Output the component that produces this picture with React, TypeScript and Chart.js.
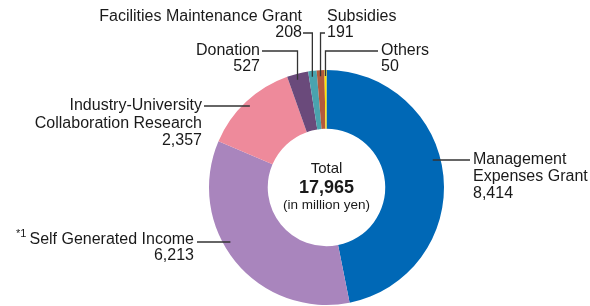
import React, { useEffect, useRef } from "react";
import { Chart, registerables } from "chart.js";

Chart.register(...registerables);

const categories = [
  "Management Expenses Grant",
  "Self Generated Income",
  "Industry-University Collaboration Research",
  "Donation",
  "Facilities Maintenance Grant",
  "Subsidies",
  "Others",
];
const values = [8414, 6213, 2357, 527, 208, 191, 50];
const valueLabels = ["8,414", "6,213", "2,357", "527", "208", "191", "50"];
const colors = ["#0068B6", "#A985BD", "#EE8A9B", "#6A4A7B", "#4AA3AE", "#B45A3C", "#FFE500"];
const totalLabel = "17,965";

const FONT = "'Liberation Sans', Arial, sans-serif";
const FS = 16;

type LabelSpec = {
  idx: number;
  lines: string[];
  x: number;
  ys: number[];
  align: CanvasTextAlign;
  leader: { kind: "h" | "v"; y: number; fromX: number };
  sup?: string;
};

const labels: LabelSpec[] = [
  { idx: 0, lines: ["Management", "Expenses Grant", valueLabels[0]], x: 473, ys: [160, 177, 194], align: "left", leader: { kind: "h", y: 160, fromX: 470 } },
  { idx: 1, lines: ["Self Generated Income", valueLabels[1]], x: 194, ys: [240, 256], align: "right", leader: { kind: "h", y: 242, fromX: 197 }, sup: "*1" },
  { idx: 2, lines: ["Industry-University", "Collaboration Research", valueLabels[2]], x: 202, ys: [106, 124, 141], align: "right", leader: { kind: "h", y: 106, fromX: 204 } },
  { idx: 3, lines: ["Donation", valueLabels[3]], x: 260, ys: [51, 67], align: "right", leader: { kind: "v", y: 51, fromX: 262 } },
  { idx: 4, lines: ["Facilities Maintenance Grant", valueLabels[4]], x: 302, ys: [17, 33], align: "right", leader: { kind: "v", y: 33, fromX: 303 } },
  { idx: 5, lines: ["Subsidies", valueLabels[5]], x: 327, ys: [17, 33], align: "left", leader: { kind: "v", y: 33, fromX: 325 } },
  { idx: 6, lines: ["Others", valueLabels[6]], x: 381, ys: [51, 67], align: "left", leader: { kind: "v", y: 51, fromX: 378 } },
];

const labelPlugin = {
  id: "labelPlugin",
  afterDraw(chart: any) {
    const ctx = chart.ctx as CanvasRenderingContext2D;
    const meta = chart.getDatasetMeta(0);
    ctx.save();
    // leaders
    ctx.strokeStyle = "#333";
    ctx.lineWidth = 1.3;
    labels.forEach((l) => {
      const arc = meta.data[l.idx] as any;
      const cx = arc.x, cy = arc.y, r = arc.outerRadius;
      ctx.beginPath();
      if (l.leader.kind === "h") {
        const dy = l.leader.y - cy;
        const dx = Math.sqrt(Math.max(0, r * r - dy * dy));
        const side = l.align === "left" ? 1 : -1;
        const edgeX = cx + side * dx - side * 8;
        ctx.moveTo(l.leader.fromX, l.leader.y);
        ctx.lineTo(edgeX, l.leader.y);
      } else {
        const mid = (arc.startAngle + arc.endAngle) / 2;
        const px = cx + Math.cos(mid) * r;
        const dx = px - cx;
        const edgeY = cy - Math.sqrt(Math.max(0, r * r - dx * dx)) + 6;
        ctx.moveTo(l.leader.fromX, l.leader.y);
        ctx.lineTo(px, l.leader.y);
        ctx.lineTo(px, edgeY);
      }
      ctx.stroke();
    });
    // texts
    ctx.fillStyle = "#1a1a1a";
    ctx.textBaseline = "middle";
    labels.forEach((l) => {
      ctx.font = `${FS}px ${FONT}`;
      ctx.textAlign = l.align;
      l.lines.forEach((t, i) => ctx.fillText(t, l.x, l.ys[i]));
      if (l.sup) {
        const w = ctx.measureText(l.lines[0]).width;
        ctx.font = `11px ${FONT}`;
        ctx.textAlign = "right";
        ctx.fillText(l.sup, l.x - w - 3, l.ys[0] - 6);
      }
    });
    // center
    const a0 = meta.data[0] as any;
    const cx = a0.x;
    ctx.textAlign = "center";
    ctx.font = `15px ${FONT}`;
    ctx.fillText("Total", cx, 169);
    ctx.font = `bold 18px ${FONT}`;
    ctx.fillText(totalLabel, cx, 188.5);
    ctx.font = `13.5px ${FONT}`;
    ctx.fillText("(in million yen)", cx, 205);
    ctx.restore();
  },
};

export default function App() {
  const ref = useRef<HTMLCanvasElement>(null);
  useEffect(() => {
    if (!ref.current) return;
    const chart = new Chart(ref.current, {
      type: "doughnut",
      data: {
        labels: categories,
        datasets: [
          {
            data: values,
            backgroundColor: colors,
            borderWidth: 0,
          },
        ],
      },
      options: {
        responsive: false,
        animation: false,
        cutout: "50%",
        layout: { padding: { left: 209, right: 146, top: 70, bottom: 1 } },
        plugins: { legend: { display: false }, tooltip: { enabled: false } },
      },
      plugins: [labelPlugin],
    });
    return () => chart.destroy();
  }, []);
  return (
    <div style={{ position: "absolute", left: 0, top: 0, width: 590, height: 306, background: "#fff" }}>
      <canvas ref={ref} width={590} height={306} style={{ display: "block" }} />
    </div>
  );
}
